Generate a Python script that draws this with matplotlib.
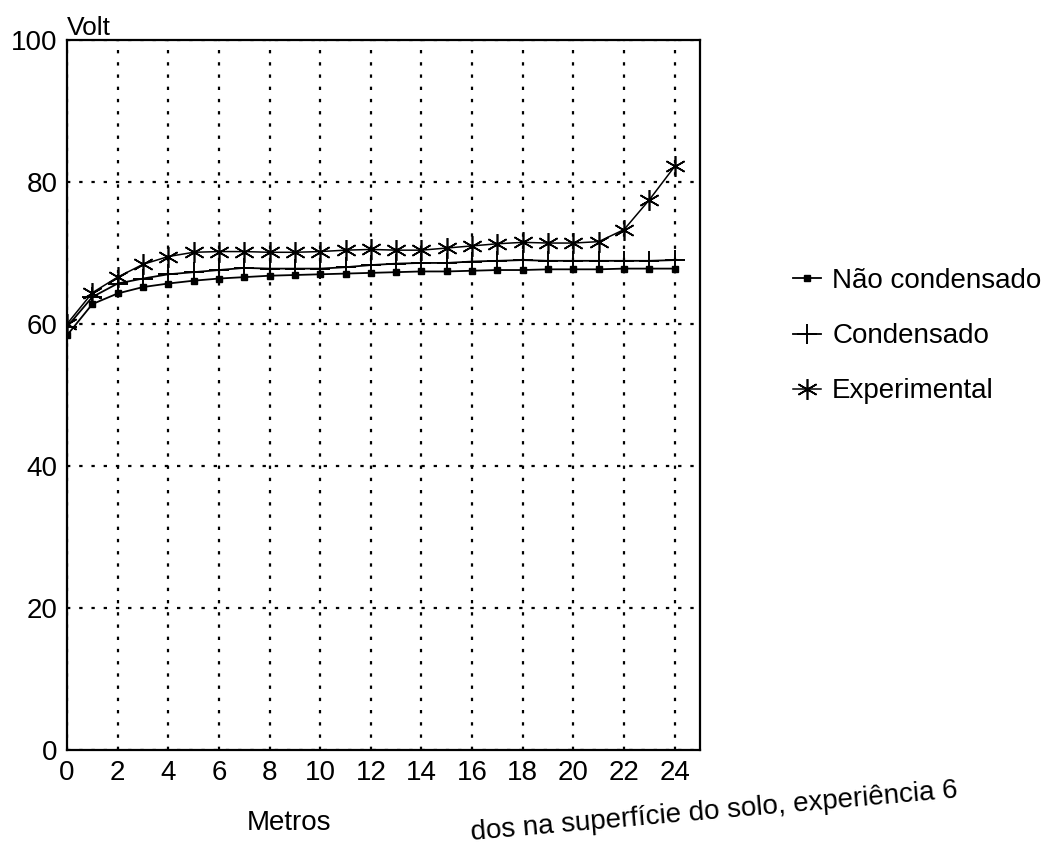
import numpy as np
import matplotlib
matplotlib.use("Agg")
from matplotlib import pyplot as plt

# distance along the ground (m) and potentials (V), read against the local grid
metros = [0, 1, 2, 3, 4, 5, 6, 7, 8, 9, 10, 11, 12,
          13, 14, 15, 16, 17, 18, 19, 20, 21, 22, 23, 24]
nao_condensado = [58.4, 62.8, 64.3, 65.2, 65.7, 66.1, 66.4, 66.6, 66.8, 66.9, 67.0, 67.1, 67.2,
                  67.3, 67.4, 67.4, 67.5, 67.6, 67.6, 67.7, 67.7, 67.7, 67.8, 67.8, 67.8]
condensado = [59.6, 63.8, 65.7, 66.4, 67.0, 67.3, 67.6, 67.9, 67.8, 67.8, 67.8, 68.0, 68.3,
              68.5, 68.6, 68.6, 68.8, 68.9, 69.0, 68.9, 68.9, 68.9, 68.9, 68.9, 69.0]
experimental = [60.0, 64.4, 66.6, 68.4, 69.5, 70.1, 70.2, 70.2, 70.1, 70.1, 70.2, 70.4, 70.5,
                70.4, 70.4, 70.7, 71.0, 71.3, 71.5, 71.4, 71.4, 71.6, 73.3, 77.5, 82.2]

x_ticks = [0, 2, 4, 6, 8, 10, 12, 14, 16, 18, 20, 22, 24]
y_ticks = [0, 20, 40, 60, 80, 100]

plt.rcParams['font.family'] = ['Liberation Sans', 'DejaVu Sans']

fig = plt.figure(figsize=(10.5, 8.51), dpi=100)
ax = fig.add_axes([0.0638, 0.1187, 0.6029, 0.8343])

ax.plot(metros, nao_condensado, color='black', lw=1.3, marker='s', ms=4,
        label='Não condensado')
ax.plot(metros, condensado, color='black', lw=1.3, marker='+', ms=14, mew=1.4,
        label='Condensado')
ax.plot(metros, experimental, color='black', lw=1.1, marker=(6, 2, 0), ms=15, mew=1.2,
        label='Experimental')

ax.set_xlim(0, 25)
ax.set_ylim(0, 100)
ax.set_xticks(x_ticks)
ax.set_yticks(y_ticks)
ax.tick_params(length=0, labelsize=20, pad=7)
ax.grid(True, color='black', linestyle=(0, (1.5, 4)), linewidth=1.6)
for sp in ax.spines.values():
    sp.set_linewidth(1.6)

ax.text(0.0, 1.0, 'Volt', transform=ax.transAxes, fontsize=19,
        ha='left', va='bottom')
ax.set_xlabel('Metros', fontsize=20)
ax.xaxis.set_label_coords(0.35, -0.085)

ax.legend(loc='upper left', bbox_to_anchor=(0.745, 0.698), bbox_transform=fig.transFigure,
          frameon=False, fontsize=20, handlelength=1.0, handletextpad=0.4,
          labelspacing=1.05, borderaxespad=0)

fig.text(470 / 1050, 1 - 840 / 851, 'dos na superfície do solo, experiência 6', fontsize=20,
         rotation=5, ha='left', va='baseline')

fig.savefig('out.png', dpi=100)
